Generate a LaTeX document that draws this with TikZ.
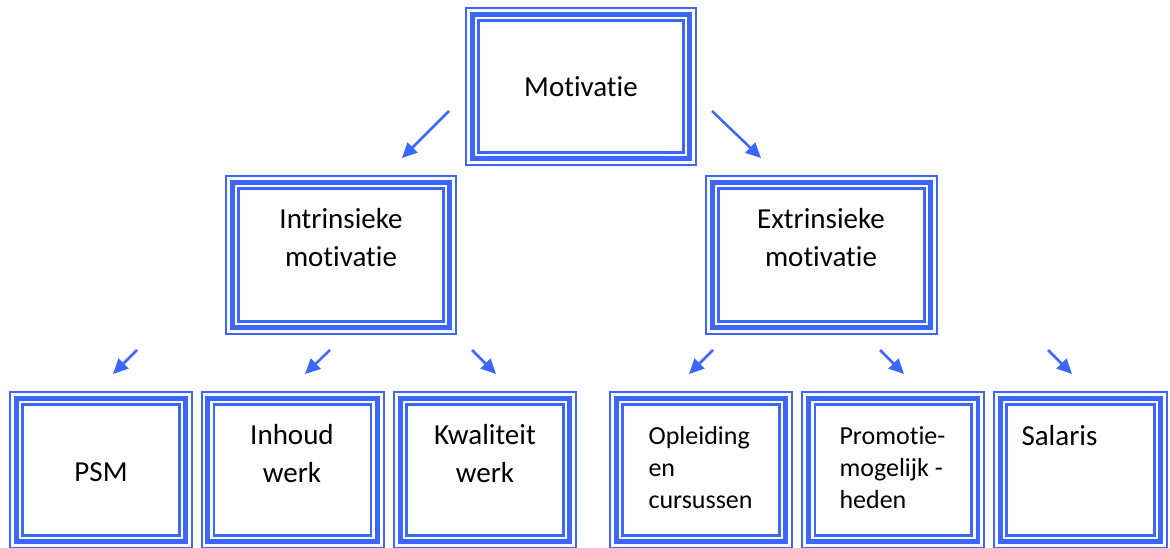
\documentclass[tikz,border=0pt]{standalone}
\usepackage{fontspec}
\setmainfont[Ligatures=NoCommon]{Carlito}
\usetikzlibrary{arrows.meta,calc}
\definecolor{boxblue}{RGB}{59,103,255}
\tikzset{
    tribox/.style={draw=boxblue, line width=2pt, inner sep=0pt, outer sep=0pt, minimum height=156pt},
    lbl/.style={font=\fontsize{29}{38}\selectfont, align=center, anchor=base},
    sml/.style={font=\fontsize{26}{32}\selectfont, align=left, anchor=base west},
    arr/.style={boxblue, line width=2.5pt, -{Triangle[length=15pt,width=14pt]}}
}
\begin{document}
\begin{tikzpicture}[x=1pt,y=-1pt]
        \useasboundingbox (0,0) rectangle (1170,548);
        % boxes
        \node[tribox, minimum width=230pt, minimum height=157pt] (mot) at (581,86.5) {};
        \node[tribox, minimum width=230pt, minimum height=158pt] (intr) at (341,255) {};
        \node[tribox, minimum width=231pt, minimum height=158pt] (extr) at (821.5,255) {};
        \foreach \n/\x in {psm/101,inh/292.5,kwal/485,opl/701,prom/893.3} {
            \node[tribox, minimum width=182pt] (\n) at (\x,470) {};
        }
        \node[tribox, minimum width=173pt] (sal) at (1080.5,470) {};
        \foreach \n in {mot,intr,extr,psm,inh,kwal,opl,prom,sal} {
            \draw[boxblue, line width=4.8pt] ($(\n.north west)+(6.35,6.35)$) rectangle ($(\n.south east)-(6.35,6.35)$);
            \draw[boxblue, line width=2.4pt] ($(\n.north west)+(12.65,12.65)$) rectangle ($(\n.south east)-(12.65,12.65)$);
        }
        % texts (base = last line)
        \node[lbl] (tmot) at (581,97) {Motivatie};
        \node[lbl] (tintr) at (341,266) {Intrinsieke\\motivatie};
        \node[lbl] (textr) at (821,266) {Extrinsieke\\motivatie};
        \node[lbl] (tpsm) at (101,481) {PSM};
        \node[lbl] (tinh) at (292,482) {Inhoud\\werk};
        \node[lbl] (tkwal) at (485,482) {Kwaliteit\\werk};
        \node[sml] (topl) at (645,508) {Opleiding\\en\\cursussen};
        \node[sml] (tprom) at (836,508) {Promotie-\\mogelijk -\\heden};
        \node[lbl, anchor=base west] (tsal) at (1018,445) {Salaris};
        % arrows
        \foreach \i/\sx/\sy/\ex/\ey in {1/449/111/402/158, 2/712/111/761/158,
                3/137/350/113/374, 4/330/350/305/374, 5/472/350/496/374,
                6/713/350/689/374, 7/880/350/904/374, 8/1048/350/1072/374} {
            \coordinate (s\i) at (\sx,\sy);
            \coordinate (e\i) at (\ex,\ey);
            \draw[arr] (s\i) -- (e\i);
        }
\end{tikzpicture}
\end{document}
